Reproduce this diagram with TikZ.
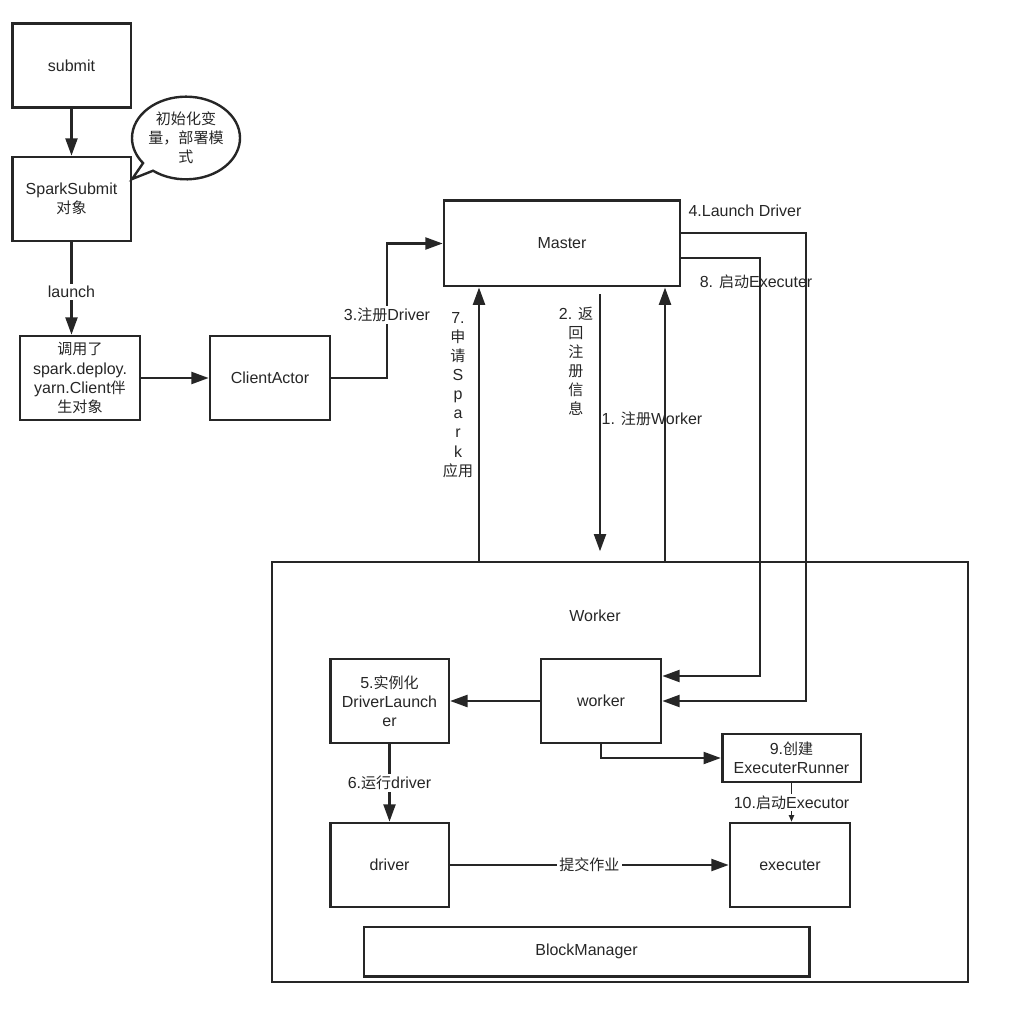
\documentclass[tikz,border=0pt]{standalone}
\usepackage{fontspec}
\setmainfont{Liberation Sans}
\newfontfamily\cjk{Noto Sans CJK SC}[Scale=0.94]
\usepackage{tikz}
\usetikzlibrary{shapes.callouts, arrows.meta}
\tikzstyle{blk} = [rectangle, draw=black!85, line width=2pt, minimum width=89pt, minimum height=63pt, text centered, align=center, inner sep=1pt]
\tikzstyle{arrow} = [line width=1.7pt, draw=black!85, -{Triangle[length=13pt,width=9pt]}]
\tikzstyle{thinarrow} = [line width=1pt, draw=black!85, -{Triangle[length=5pt,width=4pt]}]
\tikzstyle{lbl} = [fill=white, inner sep=1.5pt, align=center]

\begin{document}
\begin{tikzpicture}[x=0.75pt, y=-0.75pt, font=\fontsize{12}{14.3}\selectfont, text=black!85]
	\useasboundingbox (0,0) rectangle (1010,1030);
	
	\node (submit) [blk] at (71.5,65.5) {submit};
	\node (ss) [blk] at (71.5,199) {SparkSubmit\\{\cjk 对象}};
	\node (note) [ellipse callout, draw=black!85, line width=1.8pt, minimum width=81pt, minimum height=62pt, inner sep=0pt, align=center, callout absolute pointer={(ss.east |- 0,179)}] at (186,138) {{\cjk 初始化变}\\{\cjk 量，部署模}\\{\cjk 式}};
	\node (yc) [blk, minimum width=90pt] at (80,378) {{\cjk 调用了}\\spark.deploy.\\yarn.Client{\cjk 伴}\\{\cjk 生对象}};
	\node (client) [blk, minimum width=90pt] at (270,378) {ClientActor};
	
	\draw [arrow] (submit) -- (ss);
	\draw [arrow] (ss.south) -- (ss.south |- yc.north) node [lbl, pos=0.54] {launch};
	\draw [arrow] (yc) -- (client);
	
	\node (master) [blk, minimum width=177pt, minimum height=64pt] at (562,243.5) {Master};
	\draw [arrow] (client.east) -| (387,315) node [lbl] {3.{\cjk 注册}Driver} |- (master.west);
	
	\node (wbox) [blk, minimum width=522pt, minimum height=315pt] at (620,772) {};
	\node (wlabel) at (595,616) {Worker};
	
	\draw [arrow] (wbox.north -| 479,0) -- (master.south -| 479,0);
	\node (l7) [align=center] at (458,395) {7.\\{\cjk 申}\\{\cjk 请}\\S\\p\\a\\r\\k\\{\cjk 应用}};
	\draw [arrow, shorten <=5pt, shorten >=7pt] (master.south -| 600,0) -- (wbox.north -| 600,0);
	\node (l2) [align=center] at (576,361) {2. {\cjk 返}\\{\cjk 回}\\{\cjk 注}\\{\cjk 册}\\{\cjk 信}\\{\cjk 息}};
	\draw [arrow] (wbox.north -| 665,0) -- (master.south -| 665,0);
	\node (l1) at (652,419) {1. {\cjk 注册}Worker};
	
	\node (launcher) [blk] at (389.5,701) {5.{\cjk 实例化}\\DriverLaunch\\er};
	\node (wk) [blk, minimum width=90pt] at (601,701) {worker};
	\node (runner) [blk, minimum width=104pt, minimum height=36pt] at (791.5,758) {9.{\cjk 创建}\\ExecuterRunner};
	\node (driver) [blk] at (389.5,865) {driver};
	\node (exec) [blk, minimum width=90pt] at (790,865) {executer};
	\node (bm) [blk, minimum width=334pt, minimum height=37pt] at (586.5,951.5) {BlockManager};
	
	\draw [arrow] (master.east |- 0,233) -- (806,233) |- (wk.east);
	\node (l4) at (745,211) {4.Launch Driver};
	\draw [arrow] (master.east |- 0,258) -- (760,258) |- (wk.east |- 0,676);
	\node (l8) at (756,282) {8. {\cjk 启动}Executer};
	
	\draw [arrow] (wk) -- (launcher);
	\draw [arrow] (wk.south) |- (runner.west);
	\draw [arrow] (launcher) -- (driver) node [lbl, midway] {6.{\cjk 运行}driver};
	\draw [thinarrow] (runner.south) -- (runner.south |- exec.north) node [lbl, midway] {10.{\cjk 启动}Executor};
	\draw [arrow] (driver) -- (exec) node [lbl, midway] {{\cjk 提交作业}};
	
\end{tikzpicture}
\end{document}
